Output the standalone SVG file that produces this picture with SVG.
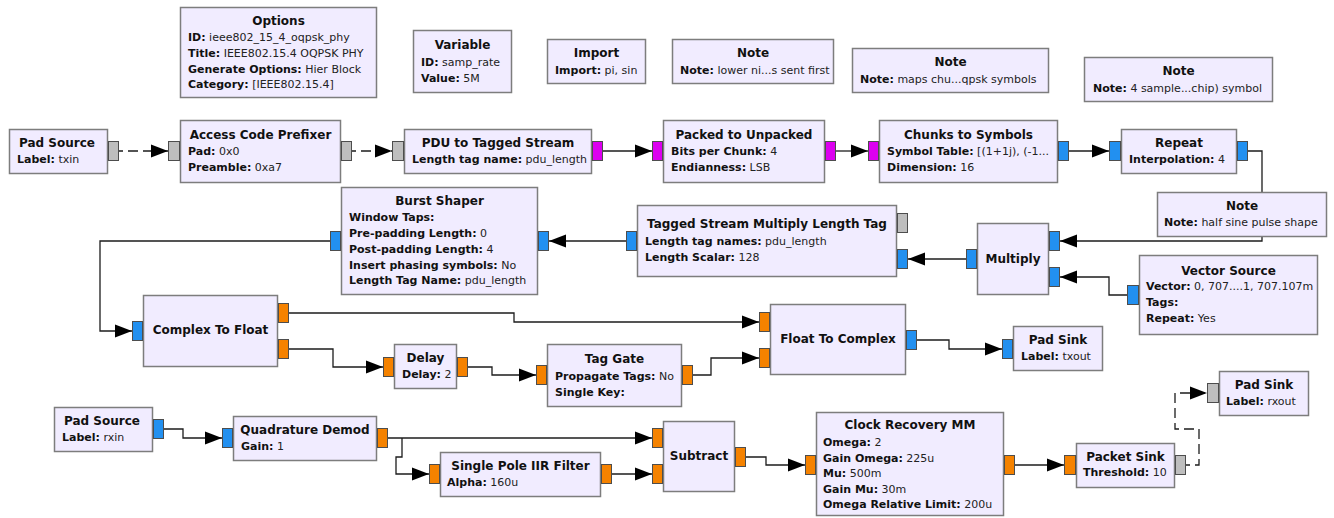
<svg xmlns="http://www.w3.org/2000/svg" width="1334" height="518" viewBox="0 0 1334 518">
  <defs>
    <style>
      .blk { fill: #F1ECFF; stroke: #7d7d7d; stroke-width: 1.5; }
      .t { font-family: 'DejaVu Sans', sans-serif; font-size: 12px; font-weight: bold; text-anchor: middle; fill: #111; }
      .p { font-family: 'DejaVu Sans', sans-serif; font-size: 11px; fill: #222; }
      .p tspan { font-weight: bold; fill: #111; }
      .port { stroke: #4d4d4d; stroke-width: 1; }
      .cplx { fill: #2290F0; }
      .flt { fill: #F58200; }
      .byte { fill: #DC00F0; }
      .msg { fill: #BEBEBE; }
      .w { fill: none; stroke: #1c1c1c; stroke-width: 1.3; marker-end: url(#arrow); }
      .dash { stroke-dasharray: 10 5; stroke-dashoffset: 6; }
    </style>
    <marker id="arrow" markerUnits="userSpaceOnUse" markerWidth="17" markerHeight="13" refX="17" refY="6.5" orient="auto" overflow="visible">
      <path d="M0,0 L17,6.5 L0,13 Z" fill="#000"/>
    </marker>
  </defs>
  <rect width="1334" height="518" fill="#fff"/>

  <!-- connectors -->
  <g id="connectors">
    <path class="w dash" d="M119,151 H168"/>
    <path class="w dash" d="M352,151 H392"/>
    <path class="w" d="M603,151 H652"/>
    <path class="w" d="M836,151 H868"/>
    <path class="w" d="M1069,151 H1109"/>
    <path class="w" d="M1248,151 H1262 V241 H1060"/>
    <path class="w" d="M1127,295 H1109 V277 H1060"/>
    <path class="w" d="M966,259 H908"/>
    <path class="w" d="M626,241 H549"/>
    <path class="w" d="M330,241 H100 V331 H132"/>
    <path class="w" d="M289,313 H514 V322 H759"/>
    <path class="w" d="M289,349 H333 V367 H383"/>
    <path class="w" d="M468,367 H492 V375 H536"/>
    <path class="w" d="M693,375 H711 V358 H759"/>
    <path class="w" d="M917,340 H949 V349 H1002"/>
    <path class="w" d="M164,429 H183 V438 H222"/>
    <path class="w" d="M388,438 H652"/>
    <path class="w" d="M402,438 V457 H396 V474 H429"/>
    <path class="w" d="M612,474 H652"/>
    <path class="w" d="M746,457 H766 V465 H805"/>
    <path class="w" d="M1015,465 H1064"/>
    <path class="w dash" d="M1186,465 H1199 V429 H1175 V393 H1207"/>
  </g>

  <!-- blocks -->
  <g id="options">
    <rect class="blk" x="180.5" y="7.5" width="196" height="90"/>
    <text class="t" x="278.5" y="24.5">Options</text>
    <text class="p" x="188" y="41"><tspan>ID:</tspan> ieee802_15_4_oqpsk_phy</text>
    <text class="p" x="188" y="57"><tspan>Title:</tspan> IEEE802.15.4 OQPSK PHY</text>
    <text class="p" x="188" y="72.5"><tspan>Generate Options:</tspan> Hier Block</text>
    <text class="p" x="188" y="88"><tspan>Category:</tspan> [IEEE802.15.4]</text>
  </g>

  <g id="variable_samp_rate">
    <rect class="blk" x="413.5" y="30.5" width="98" height="62"/>
    <text class="t" x="462.5" y="49">Variable</text>
    <text class="p" x="421" y="66"><tspan>ID:</tspan> samp_rate</text>
    <text class="p" x="421" y="81.5"><tspan>Value:</tspan> 5M</text>
  </g>

  <g id="import">
    <rect class="blk" x="547.5" y="39.5" width="98" height="44"/>
    <text class="t" x="596.5" y="57">Import</text>
    <text class="p" x="555" y="74"><tspan>Import:</tspan> pi, sin</text>
  </g>

  <g id="note_nibbles">
    <rect class="blk" x="672.5" y="39.5" width="161" height="44"/>
    <text class="t" x="753" y="57">Note</text>
    <text class="p" x="680" y="74"><tspan>Note:</tspan> lower ni...s sent first</text>
  </g>

  <g id="note_chunks">
    <rect class="blk" x="852.5" y="48.5" width="196" height="44"/>
    <text class="t" x="950.5" y="66">Note</text>
    <text class="p" x="860" y="83"><tspan>Note:</tspan> maps chu...qpsk symbols</text>
  </g>

  <g id="note_samples">
    <rect class="blk" x="1084.5" y="57.5" width="188" height="44"/>
    <text class="t" x="1178.5" y="75">Note</text>
    <text class="p" x="1093" y="92"><tspan>Note:</tspan> 4 sample...chip) symbol</text>
  </g>

  <g id="pad_source_txin">
    <rect class="blk" x="9.5" y="129.5" width="98" height="44"/>
    <text class="t" x="57" y="146.5">Pad Source</text>
    <text class="p" x="17" y="163"><tspan>Label:</tspan> txin</text>
    <rect class="port msg" x="108.5" y="141.5" width="10" height="19"/>
  </g>

  <g id="access_code_prefixer">
    <rect class="blk" x="180.5" y="120.5" width="160" height="62"/>
    <text class="t" x="260.5" y="138.5">Access Code Prefixer</text>
    <text class="p" x="188" y="155"><tspan>Pad:</tspan> 0x0</text>
    <text class="p" x="188" y="171"><tspan>Preamble:</tspan> 0xa7</text>
    <rect class="port msg" x="168.5" y="141.5" width="11" height="19"/>
    <rect class="port msg" x="341.5" y="141.5" width="10" height="19"/>
  </g>

  <g id="pdu_to_tagged_stream">
    <rect class="blk" x="404.5" y="129.5" width="187" height="44"/>
    <text class="t" x="498" y="146.5">PDU to Tagged Stream</text>
    <text class="p" x="412" y="163"><tspan>Length tag name:</tspan> pdu_length</text>
    <rect class="port msg" x="392.5" y="141.5" width="11" height="19"/>
    <rect class="port byte" x="592.5" y="141.5" width="10" height="19"/>
  </g>

  <g id="packed_to_unpacked">
    <rect class="blk" x="663.5" y="120.5" width="161" height="62"/>
    <text class="t" x="744" y="138.5">Packed to Unpacked</text>
    <text class="p" x="671" y="155"><tspan>Bits per Chunk:</tspan> 4</text>
    <text class="p" x="671" y="171"><tspan>Endianness:</tspan> LSB</text>
    <rect class="port byte" x="652.5" y="141.5" width="10" height="19"/>
    <rect class="port byte" x="825.5" y="141.5" width="10" height="19"/>
  </g>

  <g id="chunks_to_symbols">
    <rect class="blk" x="879.5" y="120.5" width="178" height="62"/>
    <text class="t" x="968.5" y="138.5">Chunks to Symbols</text>
    <text class="p" x="887" y="155"><tspan>Symbol Table:</tspan> [(1+1j), (-1...</text>
    <text class="p" x="887" y="171"><tspan>Dimension:</tspan> 16</text>
    <rect class="port byte" x="868.5" y="141.5" width="10" height="19"/>
    <rect class="port cplx" x="1058.5" y="141.5" width="10" height="19"/>
  </g>

  <g id="repeat">
    <rect class="blk" x="1121.5" y="129.5" width="115" height="44"/>
    <text class="t" x="1179" y="146.5">Repeat</text>
    <text class="p" x="1129" y="163"><tspan>Interpolation:</tspan> 4</text>
    <rect class="port cplx" x="1109.5" y="141.5" width="11" height="19"/>
    <rect class="port cplx" x="1237.5" y="141.5" width="10" height="19"/>
  </g>

  <g id="note_pulse">
    <rect class="blk" x="1157.5" y="192.5" width="169" height="44"/>
    <text class="t" x="1242" y="209.5">Note</text>
    <text class="p" x="1164" y="226"><tspan>Note:</tspan> half sine pulse shape</text>
  </g>

  <g id="multiply">
    <rect class="blk" x="977.5" y="223.5" width="71" height="71"/>
    <text class="t" x="1013" y="262.5">Multiply</text>
    <rect class="port cplx" x="1049.5" y="231.5" width="10" height="19"/>
    <rect class="port cplx" x="1049.5" y="267.5" width="10" height="19"/>
    <rect class="port cplx" x="966.5" y="249.5" width="10" height="19"/>
  </g>

  <g id="vector_source">
    <rect class="blk" x="1139.5" y="255.5" width="178" height="79"/>
    <text class="t" x="1228.5" y="274.5">Vector Source</text>
    <text class="p" x="1146" y="290"><tspan>Vector:</tspan> 0, 707....1, 707.107m</text>
    <text class="p" x="1146" y="306"><tspan>Tags:</tspan></text>
    <text class="p" x="1146" y="322"><tspan>Repeat:</tspan> Yes</text>
    <rect class="port cplx" x="1127.5" y="285.5" width="11" height="19"/>
  </g>

  <g id="tagged_stream_multiply_length">
    <rect class="blk" x="637.5" y="205.5" width="259" height="71"/>
    <text class="t" x="767" y="227.5">Tagged Stream Multiply Length Tag</text>
    <text class="p" x="645" y="245"><tspan>Length tag names:</tspan> pdu_length</text>
    <text class="p" x="645" y="261"><tspan>Length Scalar:</tspan> 128</text>
    <rect class="port msg" x="897.5" y="213.5" width="10" height="19"/>
    <rect class="port cplx" x="897.5" y="249.5" width="10" height="19"/>
    <rect class="port cplx" x="626.5" y="231.5" width="10" height="19"/>
  </g>

  <g id="burst_shaper">
    <rect class="blk" x="341.5" y="187.5" width="196" height="107"/>
    <text class="t" x="439.5" y="204.5">Burst Shaper</text>
    <text class="p" x="349" y="221"><tspan>Window Taps:</tspan></text>
    <text class="p" x="349" y="237"><tspan>Pre-padding Length:</tspan> 0</text>
    <text class="p" x="349" y="253"><tspan>Post-padding Length:</tspan> 4</text>
    <text class="p" x="349" y="268.5"><tspan>Insert phasing symbols:</tspan> No</text>
    <text class="p" x="349" y="284"><tspan>Length Tag Name:</tspan> pdu_length</text>
    <rect class="port cplx" x="538.5" y="231.5" width="10" height="19"/>
    <rect class="port cplx" x="330.5" y="231.5" width="10" height="19"/>
  </g>

  <g id="complex_to_float">
    <rect class="blk" x="143.5" y="295.5" width="134" height="71"/>
    <text class="t" x="210.5" y="333.5">Complex To Float</text>
    <rect class="port cplx" x="132.5" y="321.5" width="10" height="19"/>
    <rect class="port flt" x="278.5" y="303.5" width="10" height="19"/>
    <rect class="port flt" x="278.5" y="339.5" width="10" height="19"/>
  </g>

  <g id="delay">
    <rect class="blk" x="394.5" y="344.5" width="62" height="44"/>
    <text class="t" x="425.5" y="361.5">Delay</text>
    <text class="p" x="402" y="377.5"><tspan>Delay:</tspan> 2</text>
    <rect class="port flt" x="383.5" y="357.5" width="10" height="19"/>
    <rect class="port flt" x="457.5" y="357.5" width="10" height="19"/>
  </g>

  <g id="tag_gate">
    <rect class="blk" x="547.5" y="344.5" width="134" height="62"/>
    <text class="t" x="614.5" y="362.5">Tag Gate</text>
    <text class="p" x="555" y="380"><tspan>Propagate Tags:</tspan> No</text>
    <text class="p" x="555" y="396"><tspan>Single Key:</tspan></text>
    <rect class="port flt" x="536.5" y="365.5" width="10" height="19"/>
    <rect class="port flt" x="682.5" y="365.5" width="10" height="19"/>
  </g>

  <g id="float_to_complex">
    <rect class="blk" x="770.5" y="304.5" width="135" height="70"/>
    <text class="t" x="838" y="342.5">Float To Complex</text>
    <rect class="port flt" x="759.5" y="312.5" width="10" height="19"/>
    <rect class="port flt" x="759.5" y="348.5" width="10" height="19"/>
    <rect class="port cplx" x="906.5" y="330.5" width="10" height="19"/>
  </g>

  <g id="pad_sink_txout">
    <rect class="blk" x="1013.5" y="326.5" width="89" height="44"/>
    <text class="t" x="1058" y="343.5">Pad Sink</text>
    <text class="p" x="1021" y="360"><tspan>Label:</tspan> txout</text>
    <rect class="port cplx" x="1002.5" y="339.5" width="10" height="19"/>
  </g>

  <g id="pad_source_rxin">
    <rect class="blk" x="54.5" y="407.5" width="98" height="44"/>
    <text class="t" x="102" y="424.5">Pad Source</text>
    <text class="p" x="62" y="441"><tspan>Label:</tspan> rxin</text>
    <rect class="port cplx" x="153.5" y="419.5" width="10" height="19"/>
  </g>

  <g id="quadrature_demod">
    <rect class="blk" x="233.5" y="416.5" width="143" height="44"/>
    <text class="t" x="305" y="433.5">Quadrature Demod</text>
    <text class="p" x="241" y="450"><tspan>Gain:</tspan> 1</text>
    <rect class="port cplx" x="222.5" y="428.5" width="10" height="19"/>
    <rect class="port flt" x="377.5" y="428.5" width="10" height="19"/>
  </g>

  <g id="single_pole_iir_filter">
    <rect class="blk" x="440.5" y="452.5" width="160" height="44"/>
    <text class="t" x="520.5" y="469.5">Single Pole IIR Filter</text>
    <text class="p" x="447" y="486"><tspan>Alpha:</tspan> 160u</text>
    <rect class="port flt" x="429.5" y="464.5" width="10" height="19"/>
    <rect class="port flt" x="601.5" y="464.5" width="10" height="19"/>
  </g>

  <g id="subtract">
    <rect class="blk" x="663.5" y="421.5" width="71" height="70"/>
    <text class="t" x="699" y="459.5">Subtract</text>
    <rect class="port flt" x="652.5" y="428.5" width="10" height="19"/>
    <rect class="port flt" x="652.5" y="464.5" width="10" height="19"/>
    <rect class="port flt" x="735.5" y="447.5" width="10" height="19"/>
  </g>

  <g id="clock_recovery_mm">
    <rect class="blk" x="816.5" y="412.5" width="187" height="103"/>
    <text class="t" x="910" y="428.5">Clock Recovery MM</text>
    <text class="p" x="823" y="446"><tspan>Omega:</tspan> 2</text>
    <text class="p" x="823" y="461.5"><tspan>Gain Omega:</tspan> 225u</text>
    <text class="p" x="823" y="477"><tspan>Mu:</tspan> 500m</text>
    <text class="p" x="823" y="492.5"><tspan>Gain Mu:</tspan> 30m</text>
    <text class="p" x="823" y="508"><tspan>Omega Relative Limit:</tspan> 200u</text>
    <rect class="port flt" x="805.5" y="455.5" width="10" height="19"/>
    <rect class="port flt" x="1004.5" y="455.5" width="10" height="19"/>
  </g>

  <g id="packet_sink">
    <rect class="blk" x="1076.5" y="443.5" width="98" height="44"/>
    <text class="t" x="1125.5" y="460.5">Packet Sink</text>
    <text class="p" x="1083" y="476"><tspan>Threshold:</tspan> 10</text>
    <rect class="port flt" x="1064.5" y="455.5" width="11" height="19"/>
    <rect class="port msg" x="1175.5" y="455.5" width="10" height="19"/>
  </g>

  <g id="pad_sink_rxout">
    <rect class="blk" x="1219.5" y="371.5" width="89" height="44"/>
    <text class="t" x="1264" y="388.5">Pad Sink</text>
    <text class="p" x="1226" y="405"><tspan>Label:</tspan> rxout</text>
    <rect class="port msg" x="1207.5" y="383.5" width="11" height="19"/>
  </g>
</svg>
